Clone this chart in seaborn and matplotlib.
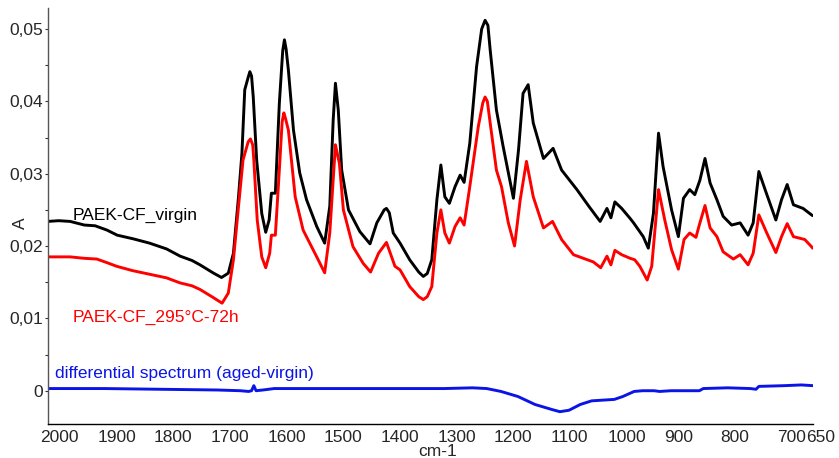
import matplotlib
matplotlib.use("Agg")
import matplotlib.pyplot as plt
import matplotlib.transforms as mtransforms
from matplotlib.ticker import FixedLocator, MultipleLocator, NullFormatter
import seaborn as sns
import pandas as pd

# ---------------- data ----------------
virgin_wn = [2000, 1980, 1960, 1935, 1916, 1895, 1877, 1849, 1820, 1790, 1766, 1745, 1731,
             1707, 1693, 1681, 1672, 1663, 1657, 1652, 1646, 1643, 1640, 1637, 1631, 1622,
             1615, 1609, 1605, 1598, 1591, 1585, 1582, 1579, 1575, 1566, 1555, 1543, 1525,
             1511, 1502, 1496, 1492, 1487, 1481, 1469, 1449, 1431, 1419, 1406, 1402, 1397,
             1390, 1378, 1361, 1345, 1337, 1330, 1322, 1313, 1306, 1299, 1291, 1281, 1272,
             1265, 1255, 1243, 1234, 1228, 1223, 1219, 1208, 1196, 1178, 1169, 1161, 1152,
             1143, 1125, 1108, 1093, 1066, 1045, 1025, 1013, 1006, 999, 987, 972, 966, 949,
             940, 931, 922, 914, 899, 887, 878, 867, 858, 849, 840, 831, 819, 808, 793, 778,
             764, 755, 745, 734, 715, 705, 695, 684, 667, 652, 650]
virgin_A = [0.0234, 0.0235, 0.0234, 0.0229, 0.0228, 0.0222, 0.0215, 0.0210, 0.0204, 0.0196,
            0.0186, 0.0180, 0.0174, 0.01625, 0.01565, 0.01625, 0.0190, 0.0268, 0.0328, 0.0416,
            0.0433, 0.0441, 0.0435, 0.0406, 0.0319, 0.0245, 0.0219, 0.0236, 0.0273, 0.0273,
            0.0397, 0.0470, 0.0485, 0.0472, 0.0443, 0.0360, 0.0301, 0.0264, 0.0227, 0.0204,
            0.0255, 0.0374, 0.0425, 0.0388, 0.0305, 0.0250, 0.0220, 0.0203, 0.0232, 0.0250,
            0.0252, 0.0246, 0.0218, 0.0204, 0.0181, 0.0164, 0.0158, 0.0162, 0.0181, 0.0264,
            0.0312, 0.0268, 0.0259, 0.0282, 0.0298, 0.0288, 0.0342, 0.0448, 0.0500, 0.0512,
            0.0505, 0.0471, 0.0388, 0.0337, 0.0266, 0.0333, 0.0411, 0.0423, 0.0370, 0.0321,
            0.0335, 0.0305, 0.0278, 0.0255, 0.0234, 0.0252, 0.0239, 0.0261, 0.0252, 0.0238,
            0.0232, 0.0213, 0.0197, 0.0245, 0.0356, 0.0310, 0.0250, 0.0213, 0.0266, 0.0278,
            0.0271, 0.0291, 0.0321, 0.0287, 0.0264, 0.0241, 0.0229, 0.0232, 0.0215, 0.0232,
            0.0303, 0.0278, 0.0236, 0.0264, 0.0285, 0.0257, 0.0252, 0.0243, 0.0242]

aged_wn = [2000, 1980, 1960, 1935, 1913, 1895, 1878, 1850, 1820, 1790, 1766, 1745, 1731,
           1708, 1692, 1681, 1672, 1663, 1655, 1646, 1642, 1638, 1636, 1630, 1622, 1615,
           1608, 1605, 1598, 1591, 1586, 1583, 1580, 1575, 1563, 1549, 1525, 1511, 1502,
           1492, 1485, 1478, 1461, 1443, 1430, 1416, 1402, 1387, 1378, 1361, 1345, 1337,
           1330, 1322, 1313, 1306, 1299, 1291, 1281, 1272, 1265, 1255, 1240, 1232, 1228,
           1224, 1219, 1208, 1199, 1187, 1176, 1166, 1155, 1143, 1125, 1109, 1093, 1072,
           1037, 1024, 1013, 1006, 999, 987, 972, 964, 955, 942, 934, 922, 911, 899, 887,
           877, 867, 856, 849, 840, 831, 819, 808, 790, 778, 764, 755, 745, 731, 715, 705,
           695, 684, 664, 652, 650]
aged_A = [0.0185, 0.0185, 0.0185, 0.0183, 0.0182, 0.0177, 0.0172, 0.0166, 0.0161, 0.0156,
          0.0149, 0.0145, 0.0140, 0.0129, 0.0121, 0.0135, 0.0181, 0.0255, 0.0319, 0.0344,
          0.0348, 0.0340, 0.0319, 0.0236, 0.0185, 0.0170, 0.0190, 0.0215, 0.0215, 0.0305,
          0.0372, 0.0384, 0.0376, 0.0360, 0.0268, 0.0222, 0.0185, 0.0163, 0.0218, 0.0340,
          0.0314, 0.0250, 0.0199, 0.0176, 0.0164, 0.0190, 0.0205, 0.0172, 0.0167, 0.0144,
          0.0130, 0.0126, 0.0130, 0.0144, 0.0218, 0.0250, 0.0218, 0.0204, 0.0227, 0.0239,
          0.0229, 0.0282, 0.0365, 0.0398, 0.0406, 0.0400, 0.0370, 0.0305, 0.0282, 0.0232,
          0.0200, 0.0264, 0.0317, 0.0268, 0.0225, 0.0234, 0.0209, 0.0188, 0.0178, 0.0170,
          0.0186, 0.0174, 0.0194, 0.0188, 0.0183, 0.0181, 0.0172, 0.0153, 0.0172, 0.0278,
          0.0236, 0.0195, 0.0168, 0.0209, 0.0218, 0.0212, 0.0232, 0.0256, 0.0225, 0.0213,
          0.0192, 0.0182, 0.0188, 0.0174, 0.0190, 0.0243, 0.0218, 0.0191, 0.0213, 0.0231,
          0.0213, 0.0209, 0.0199, 0.0197]

diff_wn = [2000, 1900, 1800, 1700, 1660, 1645, 1640, 1636, 1632, 1620, 1600, 1550, 1500,
           1450, 1400, 1350, 1300, 1250, 1225, 1200, 1170, 1140, 1110, 1096, 1080, 1060,
           1040, 1020, 1000, 985, 965, 950, 930, 920, 900, 880, 860, 850, 843, 800, 760,
           750, 745, 700, 670, 650]
diff_A = [0.0003, 0.0003, 0.0002, 0.0001, 0.0000, -0.0001, 0.0000, 0.0007, 0.0000, 0.0001,
          0.0003, 0.0003, 0.0003, 0.0003, 0.0003, 0.0003, 0.0003, 0.0004, 0.0003, -0.0001,
          -0.0008, -0.0019, -0.0026, -0.0029, -0.0027, -0.0019, -0.0014, -0.0013, -0.0012,
          -0.0008, -0.0001, 0.0000, 0.0000, -0.0001, 0.0000, 0.0000, 0.0000, 0.0000, 0.0003,
          0.0004, 0.0003, 0.0002, 0.0006, 0.0007, 0.0008, 0.0007]

x_ticks = [2000, 1900, 1800, 1700, 1600, 1500, 1400, 1300, 1200, 1100, 1000, 900, 800, 700, 650]
x_tick_labels = ["2000", "1900", "1800", "1700", "1600", "1500", "1400", "1300", "1200",
                 "1100", "1000", "900", "800", "700", "650"]
y_ticks = [0.0, 0.01, 0.02, 0.03, 0.04, 0.05]
y_tick_labels = ["0", "0,01", "0,02", "0,03", "0,04", "0,05"]

label_virgin = "PAEK-CF_virgin"
label_aged = "PAEK-CF_295°C-72h"
label_diff = "differential spectrum (aged-virgin)"

# ---------------- figure ----------------
sns.set_style("white")
plt.rcParams["font.family"] = ["Liberation Sans", "DejaVu Sans"]
FS = 12.5

fig = plt.figure(figsize=(8.39, 4.58), dpi=100)
ax = fig.add_axes([47.5 / 839, 34 / 458, (812.7 - 47.5) / 839, (424 - 8) / 458])

df_v = pd.DataFrame({"wn": virgin_wn, "A": virgin_A})
df_a = pd.DataFrame({"wn": aged_wn, "A": aged_A})
df_d = pd.DataFrame({"wn": diff_wn, "A": diff_A})

common = dict(x="wn", y="A", ax=ax, estimator=None, sort=False, linewidth=2.1)
sns.lineplot(data=df_v, color="black", **common)
sns.lineplot(data=df_a, color="#ff0000", **common)
sns.lineplot(data=df_d, color="#0a14e6", **common)
for ln in ax.lines:
    ln.set_solid_joinstyle("round")
    ln.set_solid_capstyle("round")

ax.set_xlim(2000, 650)
ax.set_ylim(-0.0046, 0.0529)

ax.set_xlabel("")
ax.set_ylabel("")

for s in ["top", "right"]:
    ax.spines[s].set_visible(False)
ax.spines["left"].set_color("#555555")
ax.spines["bottom"].set_color("black")
ax.spines["left"].set_linewidth(1.0)
ax.spines["bottom"].set_linewidth(1.0)

ax.set_xticks(x_ticks)
ax.set_xticklabels(x_tick_labels, fontsize=FS, ha="left")
ax.tick_params(axis="x", direction="in", length=3, width=0.8, color="#333333", pad=4)
offset = mtransforms.ScaledTranslation(-7 / 100, 0, fig.dpi_scale_trans)
for lab in ax.get_xticklabels():
    lab.set_transform(lab.get_transform() + offset)

ax.yaxis.set_major_locator(FixedLocator(y_ticks))
ax.set_yticklabels(y_tick_labels, fontsize=FS)
ax.yaxis.set_minor_locator(MultipleLocator(0.005))
ax.yaxis.set_minor_formatter(NullFormatter())
ax.tick_params(axis="y", which="both", direction="out", length=2.5, width=0.8,
               color="#333333", pad=0.5, left=True)

ax.text(1955, 0.0236, label_virgin, color="black", fontsize=FS, ha="left", va="baseline")
ax.text(1955, 0.0095, label_aged, color="#ff0000", fontsize=FS, ha="left", va="baseline")
ax.text(1987, 0.0017, label_diff, color="#0a14e6", fontsize=FS, ha="left", va="baseline")

fig.text(438 / 839, 1 - 456 / 458, "cm-1", fontsize=FS, ha="center", va="baseline")
fig.text(20 / 839, 1 - 223 / 458, "A", fontsize=FS, ha="center", va="center", rotation=90)

fig.savefig("out.png", dpi=100)
